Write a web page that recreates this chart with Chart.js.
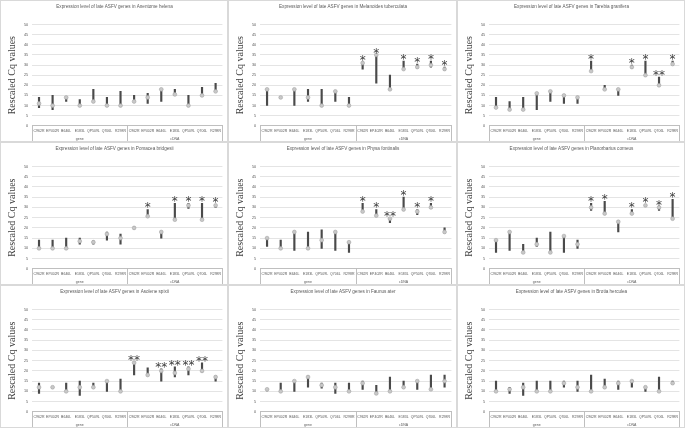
<!DOCTYPE html>
<html>
<head>
<meta charset="utf-8">
<script src="https://cdn.jsdelivr.net/npm/chart.js@4.4.1/dist/chart.umd.min.js"></script>
<style>
  html, body { margin: 0; padding: 0; background: #fff; }
  #grid { display: grid; grid-template-columns: 228px 229px 228px; grid-template-rows: 142px 143px 143px; width: 685px; height: 428px; }
  .panel { position: relative; border: 1px solid #d9d9d9; box-sizing: border-box; }
</style>
</head>
<body>
<div id="grid">
  <div class="panel"><canvas id="chart1"></canvas></div>
  <div class="panel"><canvas id="chart2"></canvas></div>
  <div class="panel"><canvas id="chart3"></canvas></div>
  <div class="panel"><canvas id="chart4"></canvas></div>
  <div class="panel"><canvas id="chart5"></canvas></div>
  <div class="panel"><canvas id="chart6"></canvas></div>
  <div class="panel"><canvas id="chart7"></canvas></div>
  <div class="panel"><canvas id="chart8"></canvas></div>
  <div class="panel"><canvas id="chart9"></canvas></div>
</div>
<script>
// categories
const genes = ["C962R", "EP402R", "B646L", "E183L", "QP509L", "Q706L", "R298R"];
const categories = genes.concat(genes);
const groups = ["gene", "cDNA"];
const yTicks = { min: 0, max: 50, step: 5 };

// Anentome helena
const anentomeLow  = [9, 8, 12, 10, 11.5, 10, 10,   12, 11, 12, 15, 10, 15, 17];
const anentomeHigh = [14, 15, 14, 13, 18, 14, 17,   15, 16, 18, 18, 15, 19, 21];
const anentomeDot  = [11, 10, 14, 10, 12, 10, 10,   12, 14, 18, 15.5, 10, 15, 17];
const anentomeStars = ["", "", "", "", "", "", "",  "", "", "", "", "", "", ""];

// Melanoides tuberculata
const melanoidesLow  = [10, 13.5, 10, 12, 10, 12, 10,   28, 21, 18, 28, 28.5, 29, 27.5];
const melanoidesHigh = [18, 14.5, 18, 18, 18, 17, 14,   31.5, 35, 25, 32, 30.5, 32, 29];
const melanoidesDot  = [18, 14, 18, 14, 10, 17, 10,     31, 35, 18, 28, 29, 30, 28];
const melanoidesStars = ["", "", "", "", "", "", "",  "*", "*", "", "*", "*", "*", "*"];

// Tarebia granifera
const tarebiaLow  = [9, 8, 8, 8, 12, 11, 11,    27, 18, 15, 28.5, 25, 20, 30];
const tarebiaHigh = [14, 12, 14, 16, 17, 15, 14,  32, 20, 18, 30, 32, 24, 32];
const tarebiaDot  = [9, 8, 8, 16, 17, 15, 14,   27, 18, 18, 29, 25, 20, 30.5];
const tarebiaStars = ["", "", "", "", "", "", "",  "*", "", "", "*", "*", "**", "*"];

// Pomacea bridgesii
const pomaceaLow  = [10, 10, 10, 12, 12, 14, 12,    19.5, 25.7, 15, 24, 29.5, 24, 30];
const pomaceaHigh = [14, 14, 15, 15, 13.7, 18, 17,  20.5, 29, 18, 32, 32, 32, 31.5];
const pomaceaDot  = [10, 10, 10, 13.5, 13, 17, 15,  20, 25.7, 18, 24, 31, 24, 31];
const pomaceaStars = ["", "", "", "", "", "", "",  "", "*", "", "*", "*", "*", "*"];

// Physa fontinalis
const physaLow  = [11, 10, 9, 10, 10, 9, 8,   28, 26, 22.5, 28.5, 26.5, 29.5, 17.5];
const physaHigh = [15, 14, 18, 18, 19, 18, 13,  32, 29, 25, 35, 29, 32, 20];
const physaDot  = [15, 10, 18, 10, 14, 18, 13,  28, 26, 24.5, 29, 28, 30, 18];
const physaStars = ["", "", "", "", "", "", "",  "*", "*", "**", "*", "*", "*", ""];

// Planorbarius corneus
const planorbariusLow  = [8, 9, 8, 11, 8, 8, 10,     28.5, 27, 18, 27, 30.5, 28.5, 24];
const planorbariusHigh = [14, 18, 12, 15, 18, 16, 14,  32, 33, 23.5, 29, 31.5, 30, 34];
const planorbariusDot  = [14, 18, 8, 12, 8, 16, 12,    30, 27, 23, 27, 31, 30, 24.5];
const planorbariusStars = ["", "", "", "", "", "", "",  "*", "*", "", "*", "*", "*", "*"];

// Asolene spixii
const asoleneLow  = [9, 11.5, 10, 8, 11.5, 10, 10,   18, 18, 15, 17, 18, 19.5, 15];
const asoleneHigh = [14, 12.4, 14, 15, 14, 15, 16,   24.5, 21.5, 21, 22, 22, 24, 17.5];
const asoleneDot  = [12, 12, 10, 12, 12, 15, 10,     24, 18, 20, 19, 21, 20, 17];
const asoleneStars = ["", "", "", "", "", "", "",  "**", "", "**", "**", "**", "**", ""];

// Faunus ater
const faunusLow  = [10.2, 10, 10, 12, 11.5, 9, 10,   11, 9, 10, 11.5, 11, 10.5, 12];
const faunusHigh = [11.4, 14, 15, 17.5, 14, 14, 14,  15, 13, 17, 15, 15, 18, 18];
const faunusDot  = [11, 10, 15, 17, 13, 12, 10,      14, 9, 10, 12, 15, 11, 15];
const faunusStars = ["", "", "", "", "", "", "",  "", "", "", "", "", "", ""];

// Brotia herculea
const brotiaLow  = [10, 9, 8, 10, 10, 12, 10,   10, 11.5, 11, 12, 10, 10, 13.5];
const brotiaHigh = [15, 12, 14, 15, 15, 15, 15,  18, 16, 15, 15, 12.3, 17, 15];
const brotiaDot  = [10, 11, 12, 10, 10, 14, 12,  10, 12, 14, 15, 12, 10, 14];
const brotiaStars = ["", "", "", "", "", "", "",  "", "", "", "", "", "", ""];

const panels = [
  ["Anentome helena", anentomeLow, anentomeHigh, anentomeDot, anentomeStars],
  ["Melanoides tuberculata", melanoidesLow, melanoidesHigh, melanoidesDot, melanoidesStars],
  ["Tarebia granifera", tarebiaLow, tarebiaHigh, tarebiaDot, tarebiaStars],
  ["Pomacea bridgesii", pomaceaLow, pomaceaHigh, pomaceaDot, pomaceaStars],
  ["Physa fontinalis", physaLow, physaHigh, physaDot, physaStars],
  ["Planorbarius corneus", planorbariusLow, planorbariusHigh, planorbariusDot, planorbariusStars],
  ["Asolene spixii", asoleneLow, asoleneHigh, asoleneDot, asoleneStars],
  ["Faunus ater", faunusLow, faunusHigh, faunusDot, faunusStars],
  ["Brotia herculea", brotiaLow, brotiaHigh, brotiaDot, brotiaStars]
];

// group labels + separators under the axis, significance asterisks
const extras = {
  id: "extras",
  afterDraw(chart) {
    const ctx = chart.ctx;
    const x = chart.scales.x, y = chart.scales.y;
    const top = chart.chartArea.bottom, bottom = chart.height;
    const n = genes.length;
    ctx.save();
    ctx.strokeStyle = "#bfbfbf";
    ctx.lineWidth = 1;
    [x.left, x.getPixelForValue(n - 0.5), x.right].forEach(px => {
      ctx.beginPath();
      ctx.moveTo(Math.round(px) + 0.5, top);
      ctx.lineTo(Math.round(px) + 0.5, bottom);
      ctx.stroke();
    });
    ctx.fillStyle = "#595959";
    ctx.font = "3.5px 'Liberation Sans'";
    ctx.textAlign = "center";
    ctx.textBaseline = "middle";
    groups.forEach((g, k) => {
      const px = (x.getPixelForValue(k * n - 0.5) + x.getPixelForValue((k + 1) * n - 0.5)) / 2;
      ctx.fillText(g, px, x.bottom + 3);
    });
    const stars = chart.options.plugins.extras.stars;
    const high = chart.options.plugins.extras.high;
    ctx.fillStyle = "#404040";
    ctx.font = "12px 'DejaVu Sans'";
    ctx.textBaseline = "alphabetic";
    stars.forEach((s, i) => {
      if (!s) return;
      const px = x.getPixelForValue(i);
      const py = y.getPixelForValue(high[i] + 2.5);
      ctx.fillText(s, px, py + 7);
    });
    ctx.restore();
  }
};

function draw_panel(element_id, name, low, high, dot, stars) {
  const ctx = document.getElementById(element_id);
  const chart = new Chart(ctx, {
    type: "bar",
    data: {
      labels: categories,
      datasets: [{
        type: "line",
        data: dot,
        showLine: false,
        pointRadius: 1.9,
        pointBackgroundColor: "#c8c8c8",
        pointBorderColor: "#a6a6a6",
        pointBorderWidth: 0.6,
        order: 0
      }, {
        type: "bar",
        data: low.map((v, i) => [v, high[i]]),
        backgroundColor: "#4a4a4a",
        barThickness: 1.5,
        order: 1
      }]
    },
    options: {
      responsive: true,
      maintainAspectRatio: false,
      animation: false,
      layout: { padding: { left: 5, right: 4, top: 0, bottom: 5 } },
      plugins: {
        legend: { display: false },
        tooltip: { enabled: false },
        title: {
          display: true,
          text: "Expression level of late ASFV genes in " + name,
          color: "#595959",
          font: { size: 4.6, family: "Liberation Sans", weight: "normal" },
          padding: { top: 3, bottom: 15 }
        },
        extras: { stars: stars, high: high }
      },
      scales: {
        x: {
          offset: true,
          grid: { display: false, drawTicks: false, tickLength: 0 },
          border: { color: "#bfbfbf" },
          ticks: { autoSkip: false, maxRotation: 0, color: "#595959", font: { size: 3.5 }, padding: 3 }
        },
        y: {
          min: yTicks.min,
          max: yTicks.max,
          border: { display: false },
          grid: { color: c => c.tick.value % yTicks.step === 0 ? "#d9d9d9" : "#eeeeee", lineWidth: 0.7, drawTicks: false },
          ticks: {
            stepSize: yTicks.step / 2,
            color: "#595959",
            font: { size: 3.8 },
            padding: 4,
            callback: v => v % yTicks.step === 0 ? v : ""
          },
          title: {
            display: true,
            text: "Rescaled Cq values",
            color: "#404040",
            font: { size: 10, family: "Liberation Serif" },
            padding: { top: 0, bottom: 2 }
          }
        }
      }
    },
    plugins: [extras]
  });
  return chart;
}

charts = [];
for (i = 0; i < panels.length; i++) {
  const p = panels[i];
  charts.push(draw_panel(`chart${i+1}`, p[0], p[1], p[2], p[3], p[4]));
}
</script>
</body>
</html>
